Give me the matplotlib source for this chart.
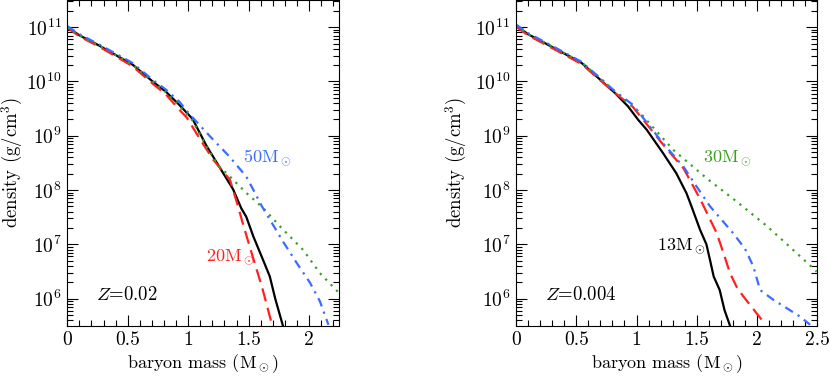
import numpy as np
import matplotlib
matplotlib.use('Agg')
import matplotlib.pyplot as plt
from matplotlib.ticker import MultipleLocator, LogLocator, NullFormatter

plt.rcParams['font.family'] = 'cmr10'
plt.rcParams['mathtext.fontset'] = 'cm'
plt.rcParams['axes.formatter.use_mathtext'] = True

# ---- Z = 0.02 (left) : baryon mass (Msun) vs log10 density ----
l_black_m = [0, 0.1, 0.264, 0.54, 0.706, 0.816, 0.926, 1.036, 1.15, 1.29, 1.37, 1.44, 1.48, 1.54, 1.62, 1.675, 1.72, 1.785]
l_black_r = [11.0, 10.85, 10.66, 10.31, 10.0, 9.81, 9.57, 9.31, 8.82, 8.31, 8.02, 7.66, 7.51, 7.14, 6.71, 6.41, 6.0, 5.49]

l_red_m = [0, 0.1, 0.264, 0.54, 0.706, 0.816, 0.926, 0.987, 1.097, 1.207, 1.345, 1.41, 1.45, 1.53, 1.61, 1.69]
l_red_r = [10.99, 10.83, 10.64, 10.28, 9.96, 9.76, 9.48, 9.34, 8.94, 8.56, 8.19, 7.72, 7.40, 6.80, 6.22, 5.55]

l_green_m = [0, 0.1, 0.264, 0.54, 0.706, 0.816, 0.926, 1.036, 1.15, 1.25, 1.317, 1.48, 1.62, 1.76, 1.95, 2.09, 2.25]
l_green_r = [11.0, 10.85, 10.66, 10.31, 10.0, 9.80, 9.55, 9.28, 8.80, 8.45, 8.31, 7.95, 7.67, 7.33, 6.90, 6.47, 6.10]

l_blue_m = [0, 0.1, 0.264, 0.54, 0.706, 0.816, 0.926, 1.01, 1.18, 1.34, 1.48, 1.54, 1.61, 1.785, 1.90, 2.006, 2.09, 2.16]
l_blue_r = [11.02, 10.87, 10.68, 10.34, 10.03, 9.85, 9.63, 9.40, 8.99, 8.62, 8.25, 8.0, 7.70, 7.05, 6.65, 6.30, 5.95, 5.52]

# ---- Z = 0.004 (right) ----
r_black_m = [0, 0.1, 0.27, 0.545, 0.71, 0.82, 0.93, 1.015, 1.085, 1.22, 1.33, 1.415, 1.456, 1.527, 1.58, 1.61, 1.64, 1.69, 1.73, 1.776]
r_black_r = [11.03, 10.87, 10.67, 10.34, 10.01, 9.79, 9.54, 9.29, 9.11, 8.68, 8.31, 7.94, 7.70, 7.27, 7.0, 6.71, 6.41, 6.16, 5.79, 5.50]

r_red_m = [0, 0.1, 0.27, 0.545, 0.71, 0.82, 0.97, 1.22, 1.39, 1.527, 1.665, 1.72, 1.776, 1.83, 1.887, 1.997, 2.05]
r_red_r = [11.01, 10.85, 10.65, 10.32, 10.0, 9.79, 9.53, 8.84, 8.40, 7.84, 7.21, 6.85, 6.47, 6.22, 6.04, 5.73, 5.58]

r_blue_m = [0, 0.1, 0.27, 0.545, 0.71, 0.82, 0.97, 1.22, 1.39, 1.50, 1.61, 1.80, 1.90, 1.97, 2.025, 2.135, 2.25, 2.357, 2.44]
r_blue_r = [11.05, 10.89, 10.69, 10.36, 10.04, 9.82, 9.57, 8.86, 8.43, 8.06, 7.70, 7.21, 6.92, 6.59, 6.16, 5.98, 5.82, 5.67, 5.52]

r_green_m = [0, 0.1, 0.27, 0.545, 0.71, 0.82, 1.03, 1.305, 1.58, 1.83, 2.08, 2.22, 2.495]
r_green_r = [11.03, 10.87, 10.68, 10.35, 10.03, 9.82, 9.42, 8.74, 8.22, 7.79, 7.34, 7.06, 6.50]

RED = '#ff2020'
BLUE = '#3a6cff'
GREEN = '#3aa020'

fig = plt.figure(figsize=(8.3, 3.82), dpi=100)
axL = fig.add_axes([0.0811, 0.147, 0.3277, 0.853])
axR = fig.add_axes([0.6217, 0.147, 0.363, 0.853])


def style(ax, xmax, ylab_x):
    ax.set_yscale('log')
    ax.set_xlim(0, xmax)
    ax.set_ylim(10**5.5, 10**11.5)
    ax.xaxis.set_major_locator(MultipleLocator(0.5))
    ax.xaxis.set_minor_locator(MultipleLocator(0.1))
    ax.yaxis.set_major_locator(LogLocator(base=10))
    ax.yaxis.set_minor_locator(LogLocator(base=10, subs=np.arange(2, 10)))
    ax.yaxis.set_minor_formatter(NullFormatter())
    ax.xaxis.set_major_formatter(plt.FuncFormatter(lambda v, p: '%g' % v))
    ax.tick_params(which='both', direction='in', top=True, right=True, labelsize=14, width=0.8)
    ax.tick_params(which='major', length=8, pad=4)
    ax.tick_params(which='minor', length=4)
    for s in ax.spines.values():
        s.set_linewidth(0.8)
    ax.set_xlabel(r'baryon mass (M$_\odot$)', fontsize=13)
    ax.set_ylabel(r'density (g/cm$^3$)', fontsize=13.5)
    ax.xaxis.set_label_coords(0.5, -0.082)
    ax.yaxis.set_label_coords(ylab_x, 0.5)


def curve(ax, m, r, **kw):
    ax.plot(m, 10 ** np.array(r), **kw)


style(axL, 2.25, -0.155)
style(axR, 2.5, -0.155)

curve(axL, l_black_m, l_black_r, color='black', lw=1.6)
curve(axL, l_red_m, l_red_r, color=RED, lw=1.6, dashes=(6, 3))
curve(axL, l_green_m, l_green_r, color=GREEN, lw=1.6, dashes=(1, 2.5))
curve(axL, l_blue_m, l_blue_r, color=BLUE, lw=1.6, dashes=(4, 2.5, 1, 2.5))

curve(axR, r_black_m, r_black_r, color='black', lw=1.6)
curve(axR, r_red_m, r_red_r, color=RED, lw=1.6, dashes=(6, 3))
curve(axR, r_green_m, r_green_r, color=GREEN, lw=1.6, dashes=(1, 2.5))
curve(axR, r_blue_m, r_blue_r, color=BLUE, lw=1.6, dashes=(4, 2.5, 1, 2.5))

axL.text(1.455, 10**8.59, r'50M$_\odot$', color=BLUE, fontsize=13, va='center')
axL.text(1.15, 10**6.75, r'20M$_\odot$', color=RED, fontsize=13, va='center')
axL.text(0.24, 10**6.07, r'$Z$=0.02', color='black', fontsize=13.5, va='center')

axR.text(1.555, 10**8.59, r'30M$_\odot$', color=GREEN, fontsize=13, va='center')
axR.text(1.17, 10**6.96, r'13M$_\odot$', color='black', fontsize=13, va='center')
axR.text(0.24, 10**6.07, r'$Z$=0.004', color='black', fontsize=13.5, va='center')

fig.savefig('out.png', dpi=100)
